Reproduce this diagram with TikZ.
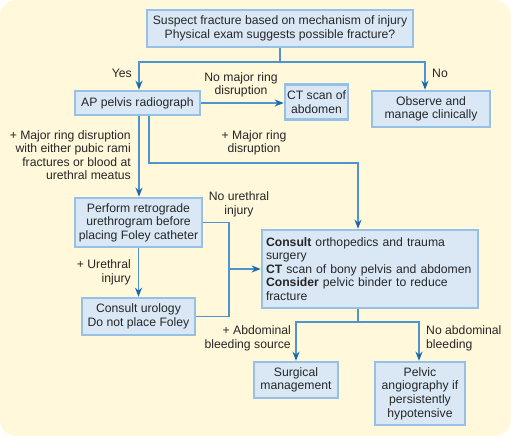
\documentclass[tikz,border=0pt]{standalone}
\usepackage{fontspec}
\setmainfont{Liberation Sans}
\usepackage{xcolor}
\usepackage{tikz}
\usetikzlibrary{arrows.meta,positioning,calc}
\definecolor{cream}{RGB}{255,248,218}
\definecolor{boxfill}{RGB}{218,232,246}
\definecolor{boxedge}{RGB}{150,192,230}
\definecolor{flowblue}{RGB}{80,148,205}
\definecolor{tipblue}{RGB}{25,105,178}

\begin{document}
\begin{tikzpicture}[x=1pt,y=-1pt,>={Stealth[length=9pt,width=7pt,color=tipblue]},
  font=\fontsize{12.2}{13.6}\selectfont]
  \tikzstyle{box}=[rectangle,draw=boxedge,line width=2.6pt,fill=boxfill,align=center,inner sep=2pt,text=black!85]
  \tikzstyle{lbl}=[inner sep=0pt,text=black!85]
  \tikzstyle{flow}=[draw=flowblue,line width=1.8pt]
  \tikzstyle{flowarr}=[flow,->]
  \fill[cream,rounded corners=16pt] (0,0) rectangle (511,436);
  \useasboundingbox (0,0) rectangle (511,436);

  % boxes
  \node[box,minimum width=266pt,minimum height=37pt] (suspect) at (280,28.5)
    {Suspect fracture based on mechanism of injury\\Physical exam suggests possible fracture?};
  \node[box,minimum width=125pt,minimum height=24pt] (ap) at (137.5,103) {AP pelvis radiograph};
  \node[box,minimum width=63pt,minimum height=35pt] (ct) at (316.5,102) {CT scan of\\abdomen};
  \node[box,minimum width=118pt,minimum height=36pt] (observe) at (431,109) {Observe and\\manage clinically};
  \node[box,minimum width=127pt,minimum height=49pt] (urethro) at (138.5,222.5)
    {Perform retrograde\\urethrogram before\\placing Foley catheter};
  \node[box,minimum width=216pt,minimum height=78pt,text width=208pt,align=left] (consult) at (370,269)
    {\textbf{Consult} orthopedics and trauma\\surgery\\\textbf{CT} scan of bony pelvis and abdomen\\
     \textbf{Consider} pelvic binder to reduce\\fracture};
  \node[box,minimum width=113pt,minimum height=37pt] (urology) at (138.5,316.5) {Consult urology\\Do not place Foley};
  \node[box,minimum width=84pt,minimum height=36pt] (surgical) at (296,380) {Surgical\\management};
  \node[box,minimum width=90pt,minimum height=63pt] (angio) at (420,393.5)
    {Pelvic\\angiography if\\persistently\\hypotensive};

  % labels
  \node[lbl,anchor=east] (yes) at (132,73) {Yes};
  \node[lbl,anchor=west] (no) at (432,73) {No};
  \node[lbl,align=center] (noring) at (241,85) {No major ring\\disruption};
  \node[lbl,align=right,anchor=north east] (majorleft) at (131,130)
    {+ Major ring disruption\\with either pubic rami\\fractures or blood at\\urethral meatus};
  \node[lbl,align=center] (majorright) at (254,143) {+ Major ring\\disruption};
  \node[lbl,align=center] (nourethral) at (239,204.5) {No urethral\\injury};
  \node[lbl,align=right,anchor=east] (urinjury) at (131,272.5) {+ Urethral\\injury};
  \node[lbl,align=right,anchor=east] (abdominal) at (291,338.5) {+ Abdominal\\bleeding source};
  \node[lbl,align=left,anchor=west] (noabdominal) at (426,338.5) {No abdominal\\bleeding};

  % connectors
  \draw[flow] (suspect.south) -- ++(0,14) coordinate (split);
  \draw[flowarr] (split) -| ([xshift=1.5pt]ap.north);
  \draw[flowarr] (split) -| ([xshift=-6pt]observe.north);
  \draw[flowarr] (ap.east) -- (ap.east -| ct.west);
  \draw[flowarr] ([xshift=1.5pt]ap.south) -- ([xshift=1.5pt]ap.south |- urethro.north);
  \draw[flowarr] ([xshift=11.5pt]ap.south) |- ++(0,47) -| ([xshift=-12pt]consult.north);
  \coordinate (join) at (229,269);
  \draw[flow] (urethro.east) -| (join);
  \draw[flow] (urology.east) -| (join);
  \draw[flowarr] (join) -- (join -| consult.west);
  \draw[flowarr] (urethro.south) -- (urology.north);
  \draw[flow] ([xshift=-12pt]consult.south) -- ++(0,13) coordinate (split2);
  \draw[flowarr] (split2) -| (surgical.north);
  \draw[flowarr] (split2) -| ([xshift=-1pt]angio.north);
\end{tikzpicture}
\end{document}
